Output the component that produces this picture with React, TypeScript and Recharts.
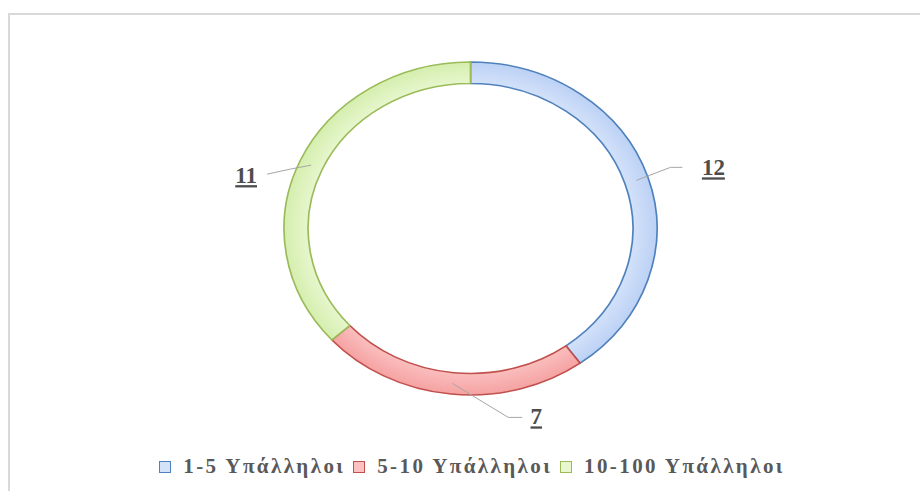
import { Legend, Pie, PieChart } from "recharts";

const categories = ["1-5 Υπάλληλοι", "5-10 Υπάλληλοι", "10-100 Υπάλληλοι"];
const values = [12, 7, 11];

// Excel-like office palette: outline, light inner tone, deeper outer tone
const STROKES = ["#4f81bd", "#c0504d", "#9bbb59"];
const LIGHT = ["#d5e3fa", "#fbc0c0", "#e8f7d0"];
const DEEP = ["#bcd1f5", "#f5a2a2", "#d5eeae"];

// the original donut is an ellipse, wider than tall
const STRETCH = 1.12;
const CX = 470.5;
const CY = 228.5;

// where each leader line bends / ends and where its label sits, relative to the band
const LABEL_OFFSETS = [
  { ex: 34, ey: -13, lx: 46, ly: -13, tx: 77, ty: -5 },
  { ex: 56, ey: 34, lx: 70, ly: 34, tx: 84, ty: 41 },
  { ex: -21, ey: 4, lx: -44, ly: 9, tx: -65, ty: 18 },
];

const data = categories.map((name, i) => ({
  name,
  value: values[i],
  fill: `url(#grad${i})`,
  stroke: STROKES[i],
}));

const RAD = Math.PI / 180;

function renderLabel(props: any) {
  const { cx, cy, midAngle, innerRadius, outerRadius, index, value } = props;
  const rm = (innerRadius + outerRadius) / 2;
  const ax = cx + rm * STRETCH * Math.cos(-midAngle * RAD);
  const ay = cy + rm * Math.sin(-midAngle * RAD);
  const o = LABEL_OFFSETS[index];
  return (
    <g key={`lbl-${index}`}>
      <polyline
        points={`${ax},${ay} ${ax + o.ex},${ay + o.ey} ${ax + o.lx},${ay + o.ly}`}
        fill="none"
        stroke="#a6a6a6"
        strokeWidth={1}
      />
      <text
        x={ax + o.tx}
        y={ay + o.ty}
        textAnchor="middle"
        fill="#4d4d4d"
        fontFamily="'Liberation Serif', 'Times New Roman', serif"
        fontWeight="bold"
        fontSize={23}
        textDecoration="underline"
      >
        {value}
      </text>
    </g>
  );
}

function renderLegend() {
  return (
    <div
      style={{
        display: "flex",
        justifyContent: "center",
        alignItems: "center",
        gap: 8,
        fontFamily: "'Liberation Serif', 'Times New Roman', serif",
        fontWeight: "bold",
        fontSize: 21,
        color: "#595959",
        letterSpacing: 2.4,
        whiteSpace: "nowrap",
      }}
    >
      {categories.map((c, i) => (
        <div key={c} style={{ display: "flex", alignItems: "center" }}>
          <span
            style={{
              display: "inline-block",
              width: 10,
              height: 10,
              border: `1.5px solid ${STROKES[i]}`,
              background: LIGHT[i],
              marginRight: 12,
            }}
          />
          <span>{c}</span>
        </div>
      ))}
    </div>
  );
}

export default function App() {
  return (
    <div
      style={{
        position: "absolute",
        left: 0,
        top: 0,
        width: 920,
        height: 491,
        overflow: "hidden",
        background: "#fff",
      }}
    >
      <style>{`.recharts-pie-sector { transform: scaleX(${STRETCH}); transform-origin: ${CX}px ${CY}px; }`}</style>
      <div
        style={{
          position: "absolute",
          left: 8,
          top: 13,
          width: 1200,
          height: 800,
          border: "2px solid #d9d9d9",
        }}
      />
      <div style={{ position: "absolute", left: 0, top: 0 }}>
        <PieChart width={920} height={491} margin={{ top: 0, right: 0, bottom: 0, left: 0 }}>
          <defs>
            {STROKES.map((_, i) => (
              <radialGradient
                key={i}
                id={`grad${i}`}
                gradientUnits="userSpaceOnUse"
                cx={CX}
                cy={CY}
                r={166.5}
              >
                <stop offset="0.86" stopColor={LIGHT[i]} />
                <stop offset="1" stopColor={DEEP[i]} />
              </radialGradient>
            ))}
          </defs>
          <Pie
            data={data}
            dataKey="value"
            nameKey="name"
            cx={CX}
            cy={CY}
            innerRadius={145}
            outerRadius={166.5}
            startAngle={90}
            endAngle={-270}
            strokeWidth={1.5}
            label={renderLabel}
            labelLine={false}
            isAnimationActive={false}
          />
          <Legend
            content={renderLegend}
            wrapperStyle={{ position: "absolute", top: 454, left: 12, width: 920 }}
          />
        </PieChart>
      </div>
    </div>
  );
}
